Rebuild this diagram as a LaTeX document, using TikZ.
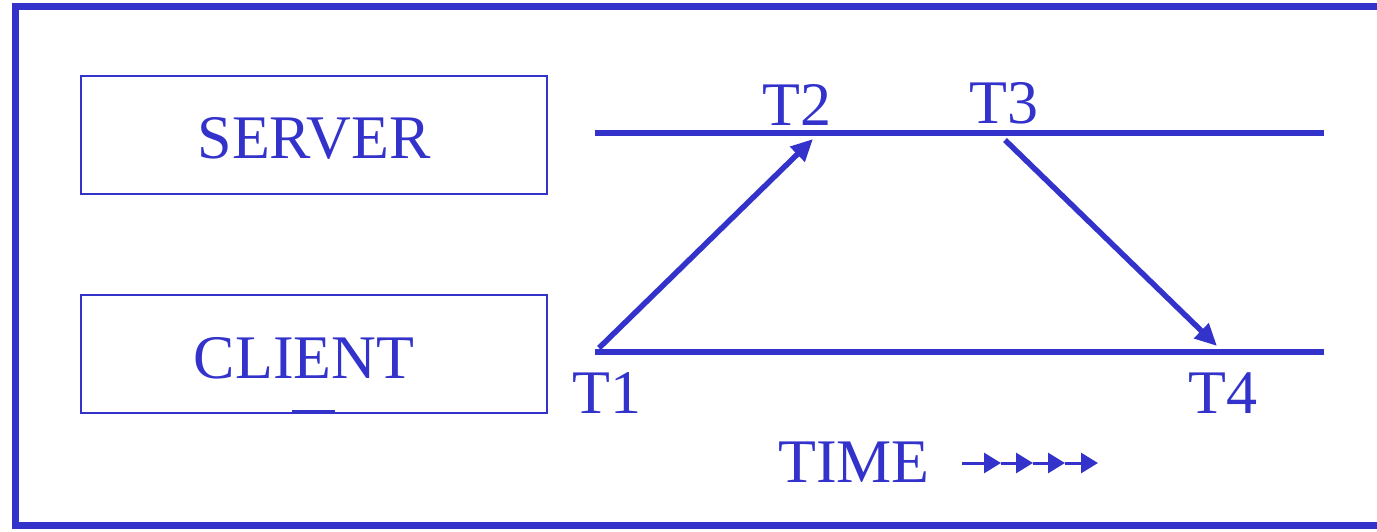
\documentclass[tikz,border=0pt]{standalone}
\usepackage{fontspec}
\setmainfont{Liberation Serif}
\usetikzlibrary{arrows.meta}
\definecolor{dblue}{HTML}{3333CC}
\begin{document}
\begin{tikzpicture}[x=1pt,y=-1pt,
  lbl/.style={text=dblue,font=\fontsize{62}{62}\selectfont,inner sep=0pt,anchor=base},
  boxst/.style={draw=dblue,line width=1.6pt},
  timeline/.style={draw=dblue,line width=6pt},
  msg/.style={draw=dblue,line width=5.5pt,-{Triangle[length=22pt,width=20pt]}},
  tip/.style={-{Triangle[length=17pt,width=20pt]}}
]
\useasboundingbox (0,0) rectangle (1377,531);
\draw[dblue,line width=7pt] (15.5,6.5) rectangle (1400,525.5);
\node[boxst,minimum width=466pt,minimum height=118pt,anchor=north west] (serverbox) at (80,75) {};
\node[boxst,minimum width=466pt,minimum height=118pt,anchor=north west] (clientbox) at (80,294) {};
\node[lbl] (server) at (314,158) {SERVER};
\node[lbl] (client) at (304,378) {CLIENT};
\coordinate (sl) at (595,133);
\coordinate (sr) at (1324,133);
\coordinate (cl) at (595,352);
\coordinate (cr) at (1324,352);
\draw[timeline] (sl) -- (sr);
\draw[timeline] (cl) -- (cr);
\coordinate (a1s) at (599,348);
\coordinate (a1e) at (813,139);
\coordinate (a2s) at (1005,140);
\coordinate (a2e) at (1217,346);
\draw[msg] (a1s) -- (a1e);
\draw[msg] (a2s) -- (a2e);
\node[lbl] (t1) at (607,413) {T1};
\node[lbl] (t2) at (797,125) {T2};
\node[lbl] (t3) at (1004,123) {T3};
\node[lbl] (t4) at (1223,413) {T4};
\node[lbl] (time) at (854,482) {TIME};
\coordinate (ul1) at (292,411);
\coordinate (ul2) at (335,411);
\draw[dblue,line width=2pt] (ul1) -- (ul2);
\coordinate (ta) at (962,463);
\coordinate (tb) at (1001,463);
\coordinate (tc) at (1033,463);
\coordinate (td) at (1065,463);
\coordinate (te) at (1098,463);
\draw[dblue,line width=3pt,tip] (ta) -- (tb);
\draw[dblue,line width=3pt,tip] (tb) -- (tc);
\draw[dblue,line width=3pt,tip] (tc) -- (td);
\draw[dblue,line width=3pt,tip] (td) -- (te);
\end{tikzpicture}
\end{document}
